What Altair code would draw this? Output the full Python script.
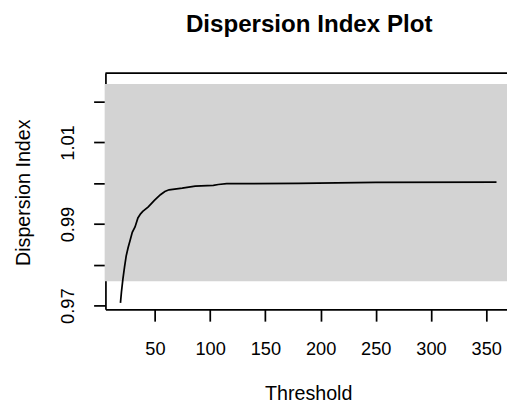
import altair as alt
import pandas as pd

# Dispersion index curve
thresholds = [18.8, 19.7, 21.0, 22.5, 24.0, 25.7, 27.5, 29.5, 32.0, 34.6, 37.0, 39.0,
              44.0, 49.5, 55.0, 59.0, 62.8, 74.7, 86.5, 102.9, 107.4, 115.0, 180.0,
              250.0, 359.3]
dispersion = [0.9707, 0.9734, 0.9765, 0.9795, 0.9822, 0.9842, 0.9860, 0.9880, 0.9893,
              0.9915, 0.9925, 0.9931, 0.9942, 0.9958, 0.9972, 0.9980, 0.9984, 0.9988,
              0.9993, 0.9995, 0.9997, 0.9999, 1.0000, 1.0002, 1.0003]

# Confidence band (grey polygon)
band_x = [4.5, 368.8]
band_lower = [0.9760, 0.9760]
band_upper = [1.0243, 1.0243]

x_domain = [5.2, 368.8]
y_domain = [0.96911, 1.02699]
x_ticks = [50, 100, 150, 200, 250, 300, 350]
y_ticks = [0.97, 0.98, 0.99, 1.00, 1.01, 1.02]

FONT = "Liberation Sans"

curve_df = pd.DataFrame({"threshold": thresholds, "di": dispersion})
band_df = pd.DataFrame({"x0": [band_x[0]], "x1": [band_x[1]],
                        "lo": [band_lower[0]], "hi": [band_upper[0]]})

x_scale = alt.Scale(domain=x_domain, nice=False, zero=False)
y_scale = alt.Scale(domain=y_domain, nice=False, zero=False)

x_axis = alt.Axis(
    values=x_ticks, format="d", title="Threshold",
    tickSize=12, labelPadding=33.7, labelBaseline="alphabetic",
    labelFontSize=18.5, titleFontSize=20, titleFontWeight="normal",
    titleX=206, titleY=92, titleBaseline="alphabetic", titleAlign="center",
    labelOverlap=False, labelFlush=False, zindex=0,
)
y_axis = alt.Axis(
    values=y_ticks, format=".2f", title="Dispersion Index",
    labelExpr="(round(datum.value*100) % 2 == 1) ? datum.label : ''",
    tickSize=12, labelPadding=20, labelAngle=270, labelAlign="center",
    labelBaseline="alphabetic", labelFontSize=18.5,
    titleFontSize=20, titleFontWeight="normal", titleAngle=270,
    titleX=-77, titleY=121, titleBaseline="alphabetic", titleAlign="center",
    labelOverlap=False, labelFlush=False, zindex=0,
)

band = alt.Chart(band_df).mark_rect(color="#d3d3d3", clip=False).encode(
    x=alt.X("x0:Q", scale=x_scale, axis=x_axis),
    x2="x1:Q",
    y=alt.Y("lo:Q", scale=y_scale, axis=y_axis),
    y2="hi:Q",
)

line = alt.Chart(curve_df).mark_line(color="black", strokeWidth=1.75).encode(
    x=alt.X("threshold:Q", scale=x_scale),
    y=alt.Y("di:Q", scale=y_scale),
)

top_border = alt.Chart(band_df).mark_rule(color="black", strokeWidth=1.75).encode(
    y=alt.value(0)
)

chart = alt.layer(band, line, top_border).properties(
    width=408, height=240,
    autosize="none",
    padding={"left": 99, "top": 63, "right": 0, "bottom": 93},
    title=alt.Title("Dispersion Index Plot", fontSize=24.5, fontWeight="bold",
                    font=FONT, color="black", anchor="middle", offset=35, dx=3),
).configure(font=FONT).configure_view(stroke=None).configure_axis(
    domainColor="black", tickColor="black", labelColor="black", titleColor="black",
    domainWidth=1.75, tickWidth=1.75, grid=False, labelFont=FONT, titleFont=FONT,
)

chart.save("out.html", embed_options={"renderer": "svg", "actions": False})
